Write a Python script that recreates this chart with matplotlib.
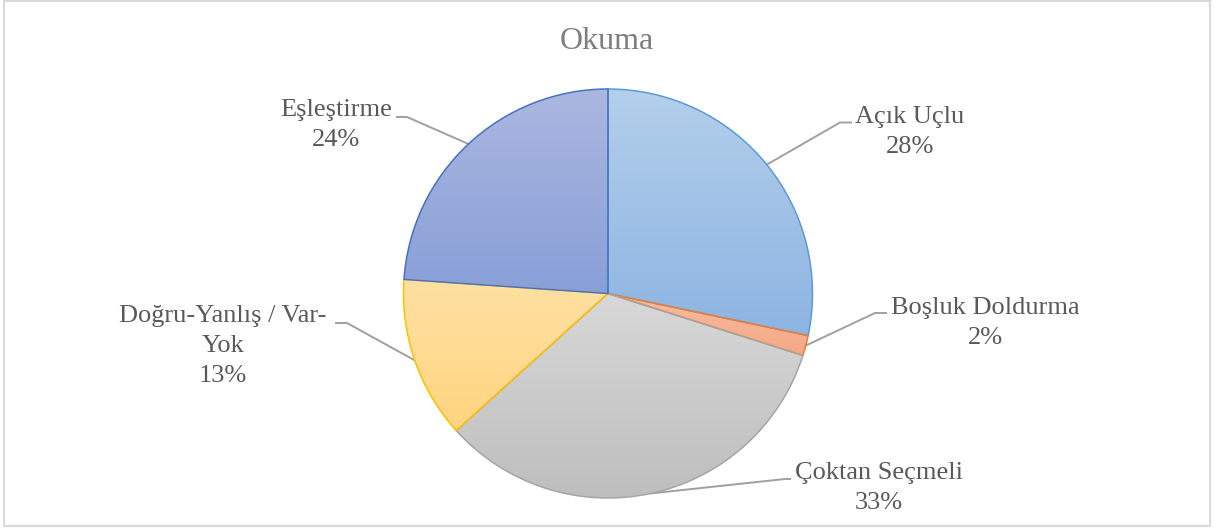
import numpy as np
import matplotlib
matplotlib.use("Agg")
import matplotlib.pyplot as plt
from matplotlib.colors import LinearSegmentedColormap
from matplotlib.patches import Rectangle

# ---- data ----
title = "Okuma"
categories = ["Açık Uçlu", "Boşluk Doldurma", "Çoktan Seçmeli",
              "Doğru-Yanlış / Var-\nYok", "Eşleştirme"]
values = [28.3, 1.6, 33.4, 12.8, 23.9]

# ---- styles ----
top_colors = ["#b3cfeb", "#f8bc9e", "#d8d8d8", "#ffe1a3", "#abb7df"]
bot_colors = ["#8db4e2", "#f4a886", "#bebebe", "#ffd47f", "#889fd8"]
edge_colors = ["#5b9bd5", "#ed7d31", "#a5a5a5", "#ffc000", "#4472c4"]

W, H = 1215, 531
fig = plt.figure(figsize=(W / 100, H / 100), dpi=100)
ax = fig.add_axes([0, 0, 1, 1])

cx, cy_img, R = 608, 293.5, 204.5
cy = H - cy_img

wedges, _ = ax.pie(values, startangle=90, counterclock=False,
                   center=(cx, cy), radius=R,
                   wedgeprops=dict(linewidth=1.1, joinstyle="miter"))

for w, tc, bc, ec in zip(wedges, top_colors, bot_colors, edge_colors):
    w.set_facecolor("none")
    w.set_edgecolor(ec)
    w.set_zorder(3)
    ext = w.get_path().get_extents()
    cmap = LinearSegmentedColormap.from_list("g", [bc, tc])
    grad = np.linspace(0, 1, 256).reshape(-1, 1)
    im = ax.imshow(grad, cmap=cmap, origin="lower", aspect="auto",
                   extent=(ext.x0, ext.x1, ext.y0, ext.y1), zorder=2,
                   interpolation="bilinear")
    im.set_clip_path(w)

# label layout (image pixel coords): text center x, first baseline y,
# elbow point, line end point
layout = [
    dict(tx=910, ty=123, elbow=(840, 122.5), end=(851, 122.5)),
    dict(tx=985, ty=314, elbow=(875, 313), end=(886, 313)),
    dict(tx=879, ty=479, elbow=(785, 479), end=(790, 479)),
    dict(tx=223, ty=322, elbow=(347, 323), end=(336, 323)),
    dict(tx=336, ty=116, elbow=(407, 117), end=(397, 117)),
]

txt_color = "#595959"
lead_color = "#a0a0a0"
fs = 19
line_gap = 30

total = sum(values)
for w, cat, v, lay in zip(wedges, categories, values, layout):
    mid = np.deg2rad((w.theta1 + w.theta2) / 2)
    sx = cx + R * np.cos(mid)
    sy = cy + R * np.sin(mid)
    ex, ey = lay["elbow"]
    nx, ny = lay["end"]
    ax.plot([sx, ex, nx], [sy, H - ey, H - ny], color=lead_color,
            lw=1.4, zorder=1, solid_joinstyle="miter")
    lines = cat.split("\n") + [f"{round(v / total * 100):.0f}%"]
    for i, ln in enumerate(lines):
        ax.text(lay["tx"], H - (lay["ty"] + i * line_gap), ln,
                ha="center", va="baseline", fontsize=fs,
                family="Liberation Serif", color=txt_color, zorder=4)

ax.text(607, H - 49, title, ha="center", va="baseline", fontsize=23,
        family="Liberation Serif", color="#7f7f7f")

ax.add_patch(Rectangle((4, H - 526), 1206, 525, fill=False,
                       edgecolor="#d9d9d9", lw=1.5, zorder=0))

ax.set_xlim(0, W)
ax.set_ylim(0, H)
ax.set_aspect("equal")
ax.axis("off")

fig.savefig("out.png", dpi=100, facecolor="white")
